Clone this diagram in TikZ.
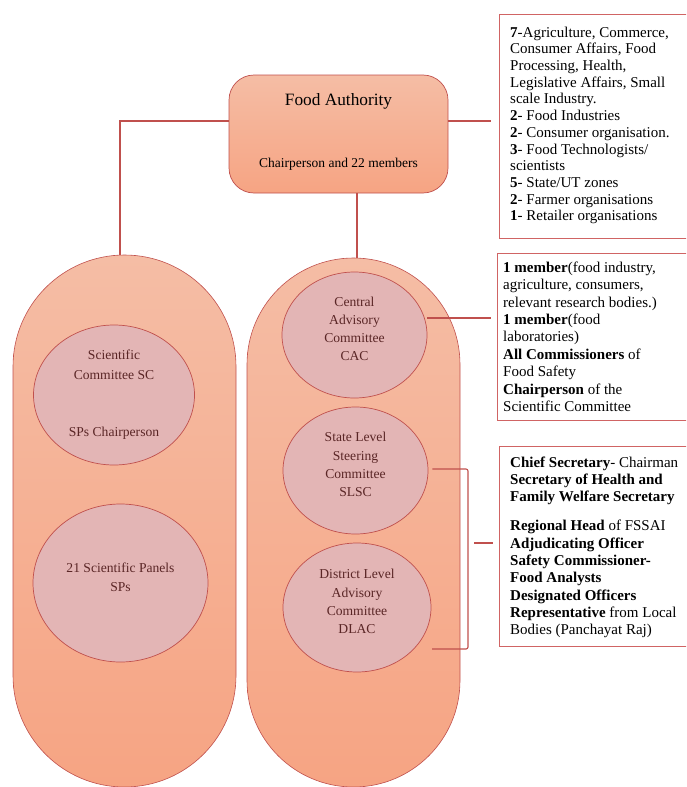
\documentclass[tikz,border=0pt]{standalone}
\usepackage{fontspec}
\setmainfont{Liberation Serif}
\usetikzlibrary{shapes.geometric,calc}

\definecolor{pilltop}{HTML}{F5BDA5}
\definecolor{pillbot}{HTML}{F6A483}
\definecolor{ovalfill}{HTML}{E3B5B5}
\definecolor{edge}{HTML}{C0504D}
\definecolor{boxedge}{HTML}{D06464}
\definecolor{ovaltext}{HTML}{5A2626}

\tikzset{
  pill/.style={draw=edge, line width=0.6pt, top color=pilltop, bottom color=pillbot,
    minimum width=#1, rounded corners=#1/2-0.01pt, inner sep=0pt},
  oval/.style={ellipse, draw=edge, line width=0.7pt, fill=ovalfill, inner sep=0pt},
  ovaltxt/.style={text=ovaltext, align=center, inner sep=0pt,
    font=\fontsize{13.6}{18.2}\selectfont},
  infobox/.style={draw=boxedge, line width=0.8pt, inner sep=0pt, anchor=north west},
  infotxt/.style={align=left, inner sep=0pt, anchor=north west, text=black},
  conn/.style={draw=edge, line width=1.1pt},
}

\begin{document}
\begin{tikzpicture}[x=1pt, y=-1pt]
\path[use as bounding box, clip] (0,0) rectangle (686,787);

% header box
\node[draw=edge, line width=0.7pt, rounded corners=25pt, top color=pilltop, bottom color=pillbot,
      minimum width=219pt, minimum height=118pt, inner sep=0pt] (fa) at (338.5,134) {};
\node[font=\fontsize{17.3}{20}\selectfont, inner sep=0pt, anchor=base] (fatitle) at (338.5,105) {Food Authority};
\node[font=\fontsize{13.5}{16}\selectfont, inner sep=0pt, anchor=base] (fasub) at (338.5,167) {Chairperson and 22 members};

% the two columns
\node[pill=223pt, minimum height=532pt] (lpill) at (124.5,521) {};
\node[pill=213pt, minimum height=529pt] (rpill) at (353.5,522.5) {};

% committees
\node[oval, minimum width=161pt, minimum height=140pt] (sc) at (114,395) {};
\node[ovaltxt, font=\fontsize{13.6}{19.3}\selectfont] (sctxt) at (sc.center)
  {Scientific\\Committee SC\\[38.6pt]SPs Chairperson};
\node[oval, minimum width=175pt, minimum height=158pt] (sp) at (120.5,583) {};
\node[ovaltxt, font=\fontsize{13.6}{19.5}\selectfont, yshift=5.5pt] (sptxt) at (sp.center)
  {21 Scientific Panels\\SPs};

\node[oval, minimum width=145pt, minimum height=126pt] (cac) at (354.5,335) {};
\node[ovaltxt, yshift=6pt] (cactxt) at (cac.center) {Central\\Advisory\\Committee\\CAC};
\node[oval, minimum width=145pt, minimum height=127pt] (slsc) at (355.5,470.5) {};
\node[ovaltxt, yshift=6pt] (slsctxt) at (slsc.center) {State Level\\Steering\\Committee\\SLSC};
\node[oval, minimum width=148pt, minimum height=129pt] (dlac) at (357,607.5) {};
\node[ovaltxt, yshift=6pt] (dlactxt) at (dlac.center) {District Level\\Advisory\\Committee\\DLAC};

% member lists
\node[infobox, minimum width=200pt, minimum height=224pt] (tbox) at (499,14) {};
\node[infotxt, font=\fontsize{15}{16.7}\selectfont] (ttxt) at (510,26.5)
  {\textbf{7}-Agriculture, Commerce,\\
   Consumer Affairs, Food\\
   Processing, Health,\\
   Legislative Affairs, Small\\
   scale Industry.\\
   \textbf{2}- Food Industries\\
   \textbf{2}- Consumer organisation.\\
   \textbf{3}- Food Technologists/\\
   scientists\\
   \textbf{5}- State/UT zones\\
   \textbf{2}- Farmer organisations\\
   \textbf{1}- Retailer organisations};

\node[infobox, minimum width=200pt, minimum height=167pt] (mbox) at (497,253) {};
\node[infotxt, font=\fontsize{15}{17.4}\selectfont] (mtxt) at (503,261.5)
  {\textbf{1 member}(food industry,\\
   agriculture, consumers,\\
   relevant research bodies.)\\
   \textbf{1 member}(food\\
   laboratories)\\
   \textbf{All Commissioners} of\\
   Food Safety\\
   \textbf{Chairperson} of the\\
   Scientific Committee};

\node[infobox, minimum width=200pt, minimum height=200pt] (bbox) at (499,446) {};
\node[infotxt, font=\fontsize{15}{17.3}\selectfont] (btxt) at (510,456.5)
  {\textbf{Chief Secretary}- Chairman\\
   \textbf{Secretary of Health and}\\
   \textbf{Family Welfare Secretary}\\[11.7pt]
   \textbf{Regional Head} of FSSAI\\
   \textbf{Adjudicating Officer}\\
   \textbf{Safety Commissioner-}\\
   \textbf{Food Analysts}\\
   \textbf{Designated Officers}\\
   \textbf{Representative} from Local\\
   Bodies (Panchayat Raj)};

% connectors
\draw[conn] ([yshift=13pt]fa.west) -| (lpill.north -| 120,0);
\draw[conn] (fa.south -| 357,0) -- (rpill.north -| 357,0);
\draw[conn, shorten >=8pt] ([yshift=13pt]fa.east) -- ([yshift=13pt]fa.east -| tbox.west);
\draw[conn, shorten >=6pt] (cac.east |- 0,318) -- (mbox.west |- 0,318);

\coordinate (brtop) at (468,469);
\coordinate (brbot) at (468,649);
\coordinate (brend) at (432,649);
\coordinate (brtick) at (474,543);
\draw[conn, rounded corners=2pt] ([xshift=4pt]slsc.east |- brtop) -- (brtop) -- (brbot) -- (brend);
\draw[conn, shorten >=6pt] (brtick) -- (brtick -| bbox.west);
\end{tikzpicture}
\end{document}
